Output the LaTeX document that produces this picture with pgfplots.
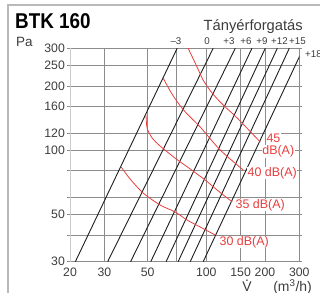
\documentclass[border=0pt]{standalone}
\usepackage{pgfplots}
\pgfplotsset{compat=1.18}
\usepackage{fontspec}
\setmainfont{Liberation Sans}
\definecolor{redc}{RGB}{232,62,62}
\definecolor{gridc}{RGB}{140,140,140}
\definecolor{txtc}{RGB}{60,60,60}
\definecolor{linec}{RGB}{30,30,30}
\begin{document}
\begin{tikzpicture}[x=1bp,y=1bp]
\path[use as bounding box] (0,0) rectangle (320,293);
\draw[gray!55, line width=1.3bp] (8,-20) -- (8,288) -- (340,288);
\node[anchor=base west, inner sep=0, font=\bfseries\fontsize{21.5}{21.5}\selectfont] at (15,265) {\scalebox{0.88}[1]{BTK 160}};
\node[anchor=base west, inner sep=0, font=\fontsize{13.5}{13.5}\selectfont, text=txtc] at (16,247) {Pa};
\node[anchor=base east, inner sep=0, font=\fontsize{14.8}{14.8}\selectfont, text=txtc] at (303,263) {Tányérforgatás};
\begin{scope}[every node/.style={anchor=base, inner sep=0, font=\fontsize{9.8}{9.8}\selectfont, text=txtc}]
\node at (176,249) {–3};
\node at (207,249) {0};
\node at (229,249) {+3};
\node at (246,249) {+6};
\node at (262,249) {+9};
\node at (279.5,249) {+12};
\node at (297.5,249) {+15};
\node[anchor=base west] at (305,236) {+18};
\end{scope}
\node[anchor=base, inner sep=0, font=\fontsize{14}{14}\selectfont, text=txtc] at (247,1.5) {\ooalign{V\cr\hfil\raisebox{0.74em}{.}\hfil\cr}};
\node[anchor=base east, inner sep=0, font=\fontsize{14}{14}\selectfont, text=txtc] at (312,1.5) {(m\textsuperscript{3}/h)};
\begin{axis}[
  at={(70bp,31.3bp)}, anchor=south west, scale only axis,
  width=229.3bp, height=213.4bp,
  xmode=log, ymode=log, xmin=20, xmax=300, ymin=30, ymax=300,
  xtick={20,30,50,70,100,150,200,300},
  xticklabels={20,30,50,,100,150,200,300},
  ytick={30,40,50,60,80,100,120,160,200,250,300},
  yticklabels={30,,50,,,100,120,160,200,250,300},
  grid=major, major grid style={gridc, line width=0.6bp},
  axis line style={gridc, line width=0.6bp},
  tick align=outside, major tick length=3bp,
  xtick style={draw=none}, ytick style={gridc, line width=0.6bp},
  ticklabel style={font=\fontsize{12.3}{12.3}\selectfont, text=txtc, inner sep=0pt},
  /pgf/number format/assume math mode=true,
  xticklabel style={yshift=-3bp},
  yticklabel style={xshift=-2bp},
]
\addplot[linec, line width=0.9bp] coordinates {(21.3,30) (70.9,300)};
\addplot[linec, line width=0.9bp] coordinates {(31.2,30) (108.5,300)};
\addplot[linec, line width=0.9bp] coordinates {(40.9,30) (140.8,300)};
\addplot[linec, line width=0.9bp] coordinates {(51.9,30) (171.5,300)};
\addplot[linec, line width=0.9bp] coordinates {(62.2,30) (200.7,300)};
\addplot[linec, line width=0.9bp] coordinates {(71.7,30) (231.4,300)};
\addplot[linec, line width=0.9bp] coordinates {(82.7,30) (266.6,300)};
\addplot[linec, line width=0.9bp] coordinates {(96.4,30) (314.6,300)};
% 45 dB
\addplot[redc, line width=0.8bp, smooth] coordinates {(80.7,300) (88.7,250.5) (96.4,213) (107.2,185) (122.1,162.7) (144.1,141.4) (189.2,109.1)};
% 40 dB
\addplot[redc, line width=0.8bp, smooth] coordinates {(60.1,217.7) (65.3,189.2) (71.7,166.3) (78.9,149.3) (93.1,128.3) (117.9,100.1) (154.7,80.7)};
% 35 dB
\addplot[redc, line width=0.8bp, smooth] coordinates {(49.1,146.1) (49.7,126.9) (52.8,114.0) (58.0,104.5) (70.1,90.9) (82.7,81.6) (98.7,72.4) (115.1,64.4) (135.8,57.2)};
% 30 dB
\addplot[redc, line width=0.8bp, smooth] coordinates {(36.6,83.3) (40.7,73.2) (47.4,63.0) (58.0,55.3) (69.2,51.3) (79.8,47.0) (93.1,43.6) (111.1,40.0)};
\begin{scope}[every node/.style={fill=white, inner sep=0.5bp, text=redc, font=\fontsize{12.5}{12.5}\selectfont}]
\node at (axis cs:221,114) {45};
\node at (axis cs:234,98.5) {dB(A)};
\node at (axis cs:218,78.1) {40 dB(A)};
\node at (axis cs:189,55.3) {35 dB(A)};
\node at (axis cs:156.6,37.1) {30 dB(A)};
\end{scope}
\draw[gray!40, line width=1.6bp] (rel axis cs:0,0) -- (rel axis cs:0,1);
\end{axis}
\end{tikzpicture}
\end{document}
